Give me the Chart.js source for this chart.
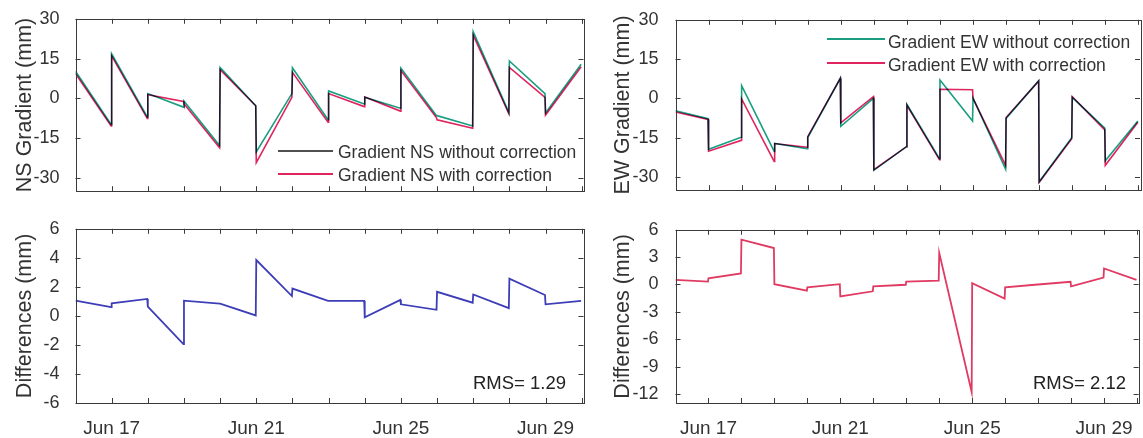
<!DOCTYPE html>
<html><head><meta charset="utf-8">
<script src="https://cdn.jsdelivr.net/npm/chart.js@4.4.1/dist/chart.umd.min.js"></script>
<style>
html,body{margin:0;padding:0;background:#fff;}
#wrap{position:relative;width:1143px;height:438px;overflow:hidden;font-family:"Liberation Sans",Arial,sans-serif;color:#333;background:#fff;}
.panel{position:absolute;}
.lg{position:absolute;font-size:17.5px;line-height:20px;white-space:nowrap;color:#333;}
.ln{position:absolute;height:2px;}
.rms{position:absolute;font-size:18.5px;line-height:20px;white-space:nowrap;color:#222;}
</style></head><body>
<div id="wrap">
  <div class="panel" style="left:0;top:0;width:590px;height:210px"><canvas id="cNS"></canvas></div>
  <div class="panel" style="left:590px;top:0;width:553px;height:210px"><canvas id="cEW"></canvas></div>
  <div class="panel" style="left:0;top:210px;width:590px;height:228px"><canvas id="cNSd"></canvas></div>
  <div class="panel" style="left:590px;top:210px;width:553px;height:228px"><canvas id="cEWd"></canvas></div>

  <div class="ln" style="left:278px;top:150px;width:55px;background:#505050"></div>
  <div class="lg" style="left:338px;top:142px">Gradient NS without correction</div>
  <div class="ln" style="left:278px;top:173px;width:55px;background:#e0245e"></div>
  <div class="lg" style="left:338px;top:165px">Gradient NS with correction</div>

  <div class="ln" style="left:827px;top:38px;width:58px;background:#1a9e82"></div>
  <div class="lg" style="left:888px;top:32px">Gradient EW without correction</div>
  <div class="ln" style="left:827px;top:62px;width:58px;background:#e0245e"></div>
  <div class="lg" style="left:888px;top:55px">Gradient EW with correction</div>

  <div class="rms" style="left:473px;top:373px">RMS= 1.29</div>
  <div class="rms" style="left:1033px;top:373px">RMS= 2.12</div>
</div>
<script>
// ---- data (days of June; each day is one segment: value at start and at end of day) ----
const days = [16,17,18,19,20,21,22,23,24,25,26,27,28,29];
const tickDays = [16,17,18,19,20,21,22,23,24,25,26,27,28,29,30];
const labelDays = [17,21,25,29];

const nsWithoutStart = [10.2, 16.8, 1.8, -1.0, 11.6, -20.2, 11.5, 2.8, 0.4, 11.4, -6.5, 25.1, 14.1, -5.5];
const nsWithoutEnd   = [-9.8, -7.0, -3.3, -17.8, -2.8, 1.8, -8.0, -2.1, -3.7, -6.5, -10.4, -5.3, 1.8, 12.9];
const nsWithStart    = [9.4, 16.0, 1.4, -2.0, 10.8, -24.2, 9.8, 1.8, 0.5, 10.5, -8.1, 23.8, 11.7, -6.3];
const nsWithEnd      = [-10.4, -7.6, -1.2, -18.6, -2.8, 0.4, -9.0, -3.1, -4.8, -7.3, -11.3, -5.8, 0.4, 11.9];

const ewWithoutStart = [-4.7, -19.4, 4.9, -17.2, -14.9, -10.6, -27.4, -2.3, 7.0, 0.1, -7.6, -31.8, 0.4, -23.8];
const ewWithoutEnd   = [-7.7, -14.8, -20.2, -19.2, 7.7, 0.0, -18.4, -23.0, -8.6, -27.0, 6.8, -15.0, -11.3, -8.6];
const ewWithStart    = [-5.2, -20.1, -0.2, -17.2, -14.6, -9.3, -27.2, -2.6, 3.5, 0.0, -7.3, -32.0, 0.7, -25.5];
const ewWithEnd      = [-8.0, -16.0, -24.0, -18.6, 7.7, 0.7, -18.4, -23.4, 3.3, -25.5, 6.6, -15.4, -12.0, -9.1];

const nsDiffStart = [1.05, 0.87, 0.64, 1.05, 0.85, 3.85, 1.88, 1.03, -0.1, 0.8, 1.66, 1.48, 2.56, 0.8];
const nsDiffEnd   = [0.6, 1.17, -1.95, 0.85, 0.03, 1.37, 1.03, 1.03, 1.1, 0.42, 0.91, 0.53, 1.44, 1.03];

const ewDiffStart = [0.5, 0.68, 4.92, 0.03, -0.32, -1.3, -0.2, 0.32, 3.48, 0.14, -0.32, 0.0, -0.2, 1.76];
const ewDiffEnd   = [0.32, 1.22, 4.0, -0.68, 0.03, -0.75, -0.03, 0.43, -11.8, -1.54, 0.0, 0.3, 0.75, 0.5];

const gradTicks = [-30,-15,0,15,30];
const nsDiffTicks = [-6,-4,-2,0,2,4,6];
const ewDiffTicks = [-12,-9,-6,-3,0,3,6];

// ---- helpers ----
const SEG = 0.985;
const FONT = '"Liberation Sans", Arial, sans-serif';
function segs(start, end){
  const pts = [];
  days.forEach((d,i)=>{ pts.push({x:d, y:start[i]}); pts.push({x:d+SEG, y:end[i]}); });
  return pts;
}
const blend = {
  id:'blend',
  beforeDatasetsDraw(chart){ chart.ctx.save(); chart.ctx.globalCompositeOperation='multiply'; },
  afterDatasetsDraw(chart){ chart.ctx.restore(); }
};
const frameTicks = {
  id:'frameTicks',
  afterDraw(chart){
    const {ctx, chartArea:a, scales:{x,y}} = chart;
    const L = 5;
    ctx.save();
    ctx.strokeStyle = '#3a3a3a'; ctx.lineWidth = 1;
    ctx.beginPath();
    x.ticks.forEach(t=>{
      const px = Math.round(x.getPixelForValue(t.value))+0.5;
      ctx.moveTo(px,a.top); ctx.lineTo(px,a.top+L);
      ctx.moveTo(px,a.bottom); ctx.lineTo(px,a.bottom-L);
    });
    y.ticks.forEach(t=>{
      const py = Math.round(y.getPixelForValue(t.value))+0.5;
      ctx.moveTo(a.left,py); ctx.lineTo(a.left+L,py);
      ctx.moveTo(a.right,py); ctx.lineTo(a.right-L,py);
    });
    ctx.stroke();
    ctx.strokeRect(Math.round(a.left)+0.5, Math.round(a.top)+0.5, Math.round(a.right-a.left), Math.round(a.bottom-a.top));
    ctx.restore();
  }
};
function makeChart(id, datasets, o){
  return new Chart(document.getElementById(id), {
    type:'line',
    data:{datasets},
    options:{
      responsive:true, maintainAspectRatio:false, animation:false,
      layout:{padding:{top:o.top, right:o.right, left:0, bottom:0}},
      plugins:{legend:{display:false}, tooltip:{enabled:false}},
      elements:{point:{radius:0}, line:{tension:0, borderWidth:1.6}},
      scales:{
        x:{type:'linear', min:16, max:30.05,
           grid:{display:false}, border:{display:false},
           afterBuildTicks(s){ s.ticks = tickDays.map(v=>({value:v})); },
           afterFit(s){ s.height = o.xh; },
           ticks:{display:o.xlabels, padding:6, maxRotation:0, autoSkip:false,
                  font:{size:19, family:FONT}, color:'#333',
                  callback:(v)=> labelDays.includes(v) ? 'Jun ' + v : ''}},
        y:{type:'linear', min:o.ymin, max:o.ymax,
           grid:{display:false}, border:{display:false},
           afterBuildTicks(s){ s.ticks = o.yticks.map(v=>({value:v})); },
           afterFit(s){ s.width = o.yw; },
           ticks:{padding:o.ypad, font:{size:18, family:FONT}, color:'#333', callback:(v)=>String(v)},
           title:{display:true, text:o.title, font:{size:21.5, family:FONT}, color:'#333', padding:{top:o.tpad, bottom:0}}}
      }
    },
    plugins:[blend, frameTicks]
  });
}

makeChart('cNS', [
  {data:segs(nsWithoutStart, nsWithoutEnd), borderColor:'#1a9e82'},
  {data:segs(nsWithStart, nsWithEnd), borderColor:'#e0245e'}
], {top:18.5, right:6.5, xh:15, xlabels:false, ymin:-35, ymax:30, yticks:gradTicks, yw:75.5, ypad:8, title:'NS Gradient (mm)', tpad:12});

makeChart('cEW', [
  {data:segs(ewWithoutStart, ewWithoutEnd), borderColor:'#1a9e82'},
  {data:segs(ewWithStart, ewWithEnd), borderColor:'#e0245e'}
], {top:18.5, right:3, xh:15, xlabels:false, ymin:-35, ymax:30, yticks:gradTicks, yw:85.5, ypad:9, title:'EW Gradient (mm)', tpad:20});

makeChart('cNSd', [
  {data:segs(nsDiffStart, nsDiffEnd), borderColor:'#3d3db8', borderWidth:1.8}
], {top:16, right:6.5, xh:35, xlabels:true, ymin:-6, ymax:6, yticks:nsDiffTicks, yw:75.5, ypad:8, title:'Differences (mm)', tpad:12});

makeChart('cEWd', [
  {data:segs(ewDiffStart, ewDiffEnd), borderColor:'#e03a62', borderWidth:1.8}
], {top:17, right:3, xh:35, xlabels:true, ymin:-13, ymax:6, yticks:ewDiffTicks, yw:85.5, ypad:9, title:'Differences (mm)', tpad:20});
</script>
</body></html>
